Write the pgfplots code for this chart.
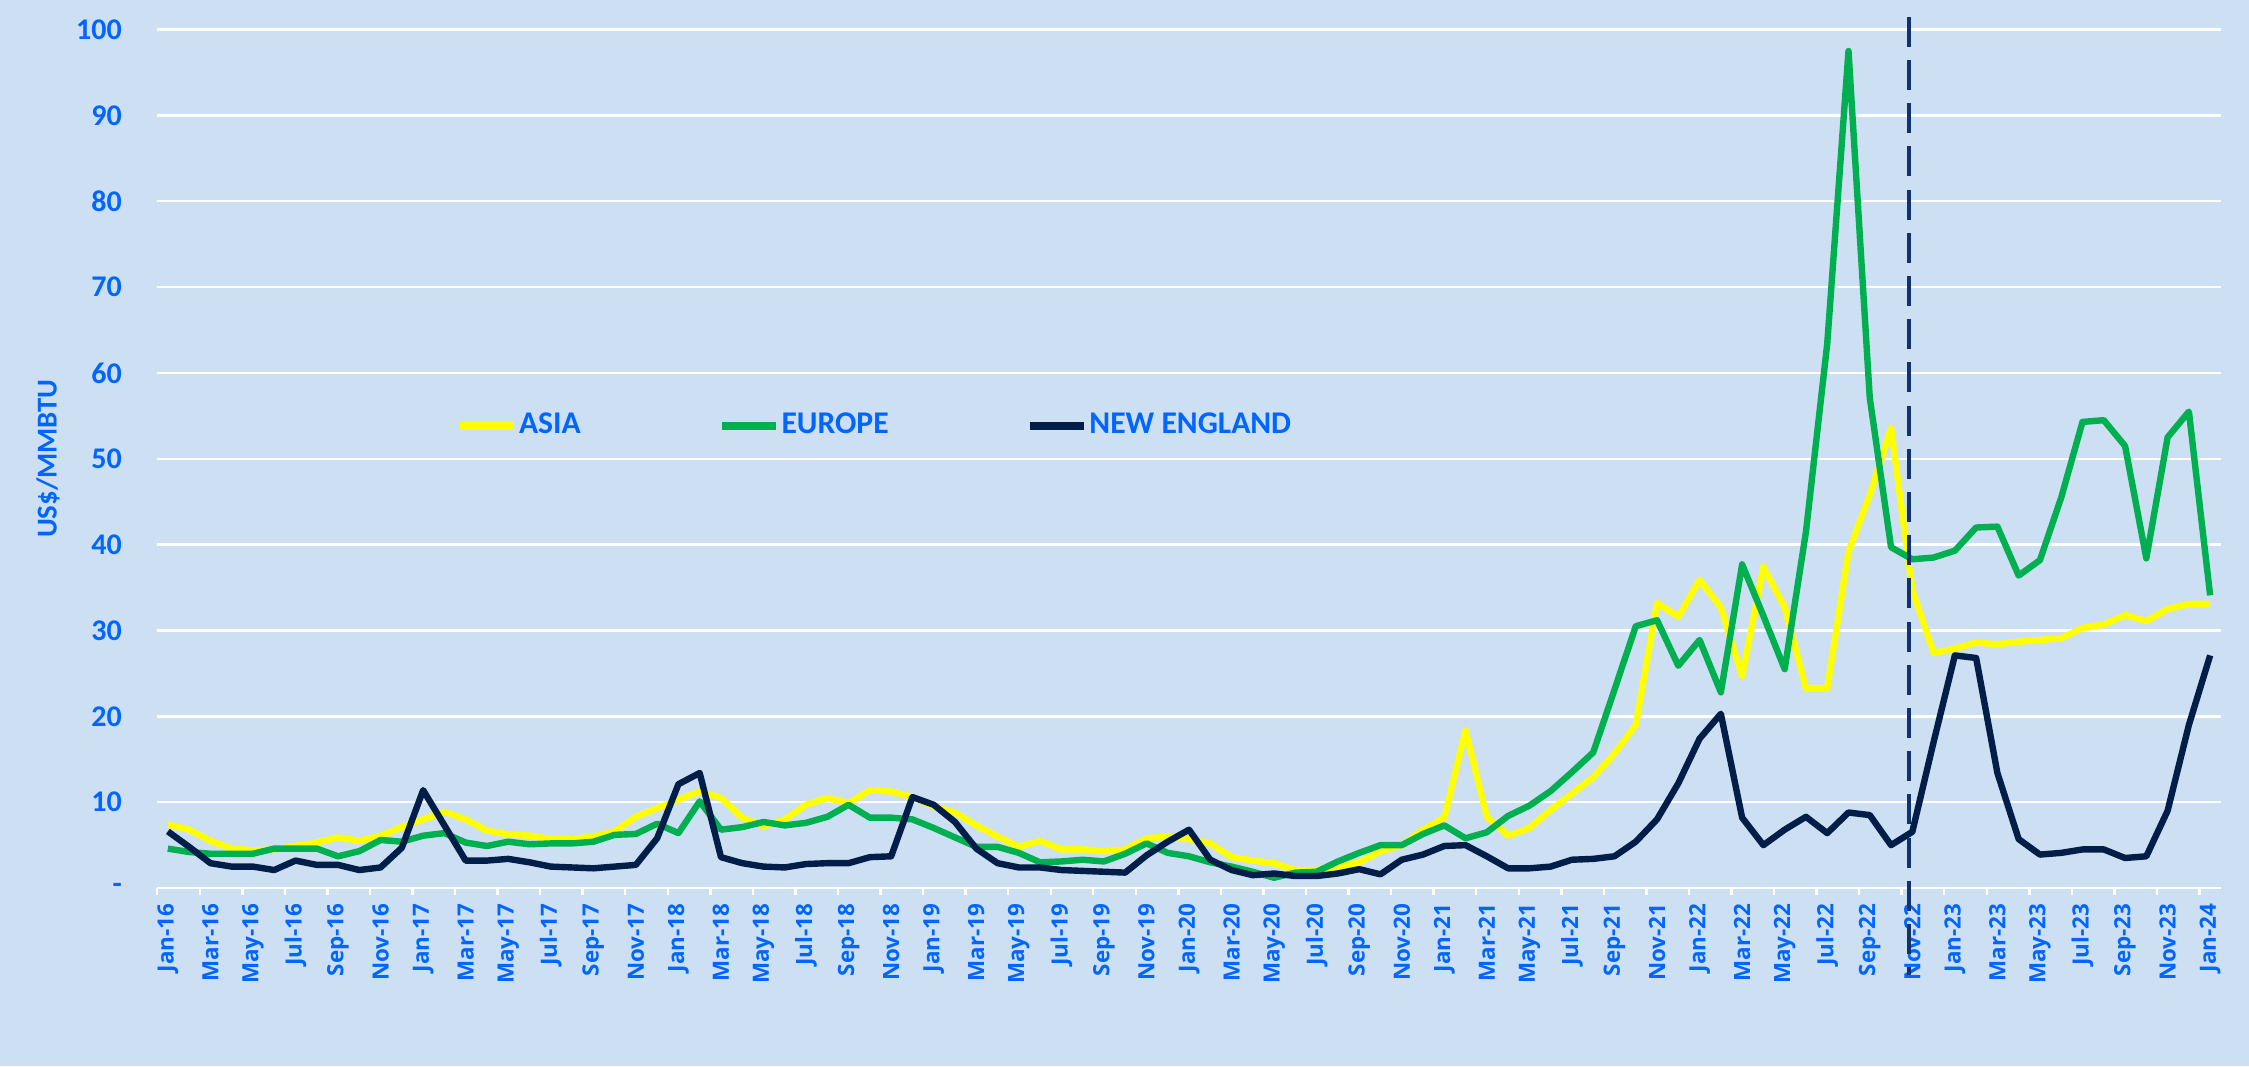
\documentclass[border=0pt]{standalone}
\usepackage{fontspec}
\setmainfont{Carlito}
\newfontfamily\xfont{Open Sans}
\usepackage{pgfplots}
\pgfplotsset{compat=1.18}
\usepackage{pgfplotstable}
\definecolor{bg}{RGB}{205,223,243}
\definecolor{tickblue}{RGB}{0,102,255}
\definecolor{asia}{RGB}{255,255,0}
\definecolor{europe}{RGB}{0,176,80}
\definecolor{neng}{RGB}{0,30,72}
\definecolor{dashc}{RGB}{16,50,110}

\pgfplotstableread{
i asia europe ne
0 7.4 4.6 6.6
1 6.8 4.2 4.8
2 5.5 4.0 2.9
3 4.6 4.0 2.5
4 4.4 4.0 2.5
5 4.5 4.6 2.1
6 4.9 4.6 3.2
7 5.3 4.6 2.7
8 5.9 3.7 2.7
9 5.5 4.3 2.1
10 6.1 5.6 2.4
11 7.1 5.4 4.7
12 8.0 6.1 11.4
13 8.9 6.4 7.3
14 8.0 5.3 3.2
15 6.7 4.9 3.2
16 6.25 5.4 3.4
17 6.1 5.1 3.0
18 5.7 5.2 2.5
19 5.7 5.2 2.4
20 6.0 5.4 2.3
21 6.6 6.2 2.5
22 8.3 6.3 2.7
23 9.3 7.5 5.8
24 10.3 6.4 12.1
25 11.25 10.1 13.4
26 10.5 6.8 3.6
27 8.2 7.1 2.9
28 7.2 7.7 2.5
29 8.0 7.3 2.4
30 9.7 7.6 2.8
31 10.5 8.3 2.9
32 9.9 9.7 2.9
33 11.4 8.2 3.6
34 11.25 8.2 3.7
35 10.6 8.0 10.6
36 9.5 7.0 9.7
37 8.8 5.9 7.7
38 7.3 4.8 4.6
39 6.0 4.8 2.9
40 4.8 4.1 2.4
41 5.5 3.0 2.4
42 4.5 3.1 2.1
43 4.5 3.3 2.0
44 4.3 3.1 1.9
45 4.5 4.0 1.8
46 5.8 5.2 3.8
47 6.0 4.1 5.4
48 5.7 3.7 6.8
49 5.2 3.0 3.3
50 3.6 2.5 2.1
51 3.2 1.9 1.5
52 2.9 1.2 1.7
53 2.1 1.8 1.4
54 2.1 1.9 1.4
55 2.5 3.1 1.7
56 3.0 4.1 2.2
57 4.3 5.0 1.6
58 5.0 5.0 3.3
59 6.8 6.3 3.9
60 8.2 7.3 4.9
61 18.4 5.8 5.0
62 8.3 6.5 3.7
63 6.1 8.4 2.3
64 7.0 9.6 2.3
65 9.1 11.3 2.5
66 11.0 13.5 3.3
67 12.9 15.8 3.4
68 15.7 23.1 3.7
69 19.0 30.5 5.4
70 33.2 31.2 8.0
71 31.6 25.9 12.2
72 35.9 28.9 17.4
73 32.7 22.8 20.3
74 24.7 37.7 8.2
75 37.4 31.7 5.0
76 32.7 25.5 6.8
77 23.3 41.5 8.3
78 23.3 63.4 6.4
79 39.2 97.5 8.8
80 45.8 57.1 8.5
81 53.6 39.7 5.0
82 34.7 38.3 6.55
83 27.4 38.5 17.0
84 27.9 39.3 27.1
85 28.6 42.0 26.8
86 28.4 42.1 13.4
87 28.7 36.4 5.7
88 28.9 38.2 3.9
89 29.1 45.5 4.1
90 30.3 54.3 4.5
91 30.7 54.5 4.5
92 31.8 51.5 3.5
93 31.1 38.4 3.7
94 32.5 52.5 9.0
95 33.1 55.5 19.0
96 33.1 34.1 27.1
}\data

\begin{document}
\begin{tikzpicture}
\path[use as bounding box, fill=bg] (-39.3pt,-44.5pt) rectangle (522.9pt,222pt);
\begin{axis}[
  at={(0pt,0pt)}, anchor=south west,
  scale only axis, width=515.85pt, height=214.6pt,
  xmin=-0.5, xmax=96.5, ymin=0, ymax=100,
  axis x line*=bottom, axis y line*=left,
  x axis line style={white, line width=0.6pt},
  y axis line style={draw=none},
  tick style={white, line width=0.6pt},
  major tick length=0pt,
  ytick={0,10,...,100},
  yticklabels={-,10,20,30,40,50,60,70,80,90,100},
  ymajorgrids,
  y grid style={white, line width=0.6pt},
  xtick={0,2,...,96},
  xticklabels={Jan-16,Mar-16,May-16,Jul-16,Sep-16,Nov-16,Jan-17,Mar-17,May-17,Jul-17,Sep-17,Nov-17,Jan-18,Mar-18,May-18,Jul-18,Sep-18,Nov-18,Jan-19,Mar-19,May-19,Jul-19,Sep-19,Nov-19,Jan-20,Mar-20,May-20,Jul-20,Sep-20,Nov-20,Jan-21,Mar-21,May-21,Jul-21,Sep-21,Nov-21,Jan-22,Mar-22,May-22,Jul-22,Sep-22,Nov-22,Jan-23,Mar-23,May-23,Jul-23,Sep-23,Nov-23,Jan-24},
  extra x ticks={-0.5,1.5,...,95.5},
  extra x tick labels={},
  extra x tick style={major tick length=1.7pt, tick align=outside},
  xticklabel style={font=\xfont\bfseries\fontsize{5.6}{6}\selectfont, rotate=90, anchor=east, inner sep=0pt, text=tickblue},
  xticklabel shift=3.7pt,
  yticklabel style={font=\bfseries\fontsize{7.5}{8}\selectfont, anchor=east, inner sep=0pt, text=tickblue},
  yticklabel shift=8.65pt,
  ylabel={US\$/MMBTU},
  ylabel style={at={(axis description cs:-0.0529,0.5)}, anchor=center, rotate=0, font=\bfseries\fontsize{7.2}{8}\selectfont, text=tickblue},
  clip=false,
  legend columns=3,
  legend image code/.code={\draw[#1, line width=1.9pt] (0pt,0pt) -- (13.5pt,0pt);},
  legend style={at={(axis cs:13.5,53.8)}, anchor=west, draw=none, fill=none, inner sep=0pt,
    font=\bfseries\fontsize{7.9}{9}\selectfont,
    nodes={inner sep=0.4pt, text=tickblue},
    /tikz/every even column/.append style={column sep=34pt}},
]
\addplot[asia, line width=1.6pt, line join=round] table[x=i, y=asia] {\data};
\addlegendentry{ASIA}
\addplot[europe, line width=1.6pt, line join=round] table[x=i, y=europe] {\data};
\addlegendentry{EUROPE}
\addplot[neng, line width=1.6pt, line join=round] table[x=i, y=ne] {\data};
\addlegendentry{NEW ENGLAND}
\draw[dashc, line width=1pt, dash pattern=on 7.5pt off 3.3pt] (axis cs:81.85,101.5) -- (axis cs:81.85,-10.1);
\end{axis}
\end{tikzpicture}
\end{document}
